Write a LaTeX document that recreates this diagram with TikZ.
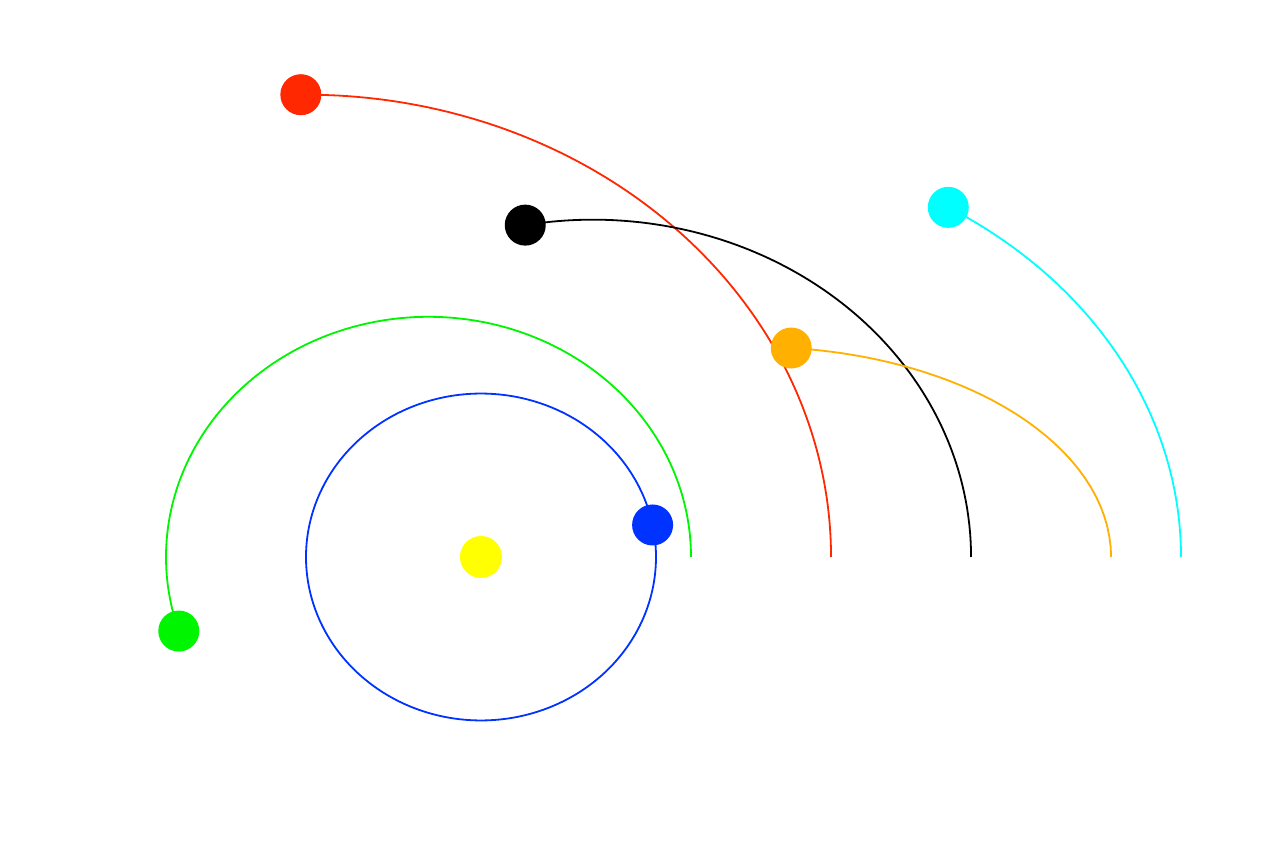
\documentclass[tikz,border=0pt]{standalone}
\usepackage{tikz}
\definecolor{cred}{RGB}{255,40,0}
\definecolor{corange}{RGB}{255,176,0}
\definecolor{cgreen}{RGB}{0,245,0}
\definecolor{cblue}{RGB}{0,51,255}
\definecolor{ccyan}{RGB}{0,255,255}
\definecolor{cyellow}{RGB}{255,255,0}
\newcommand\orbitplanet[5]{%
  \draw[orbitline,#1] plot[domain=0:#4,samples=360]
    ({(#2/(1+#3*cos(\x)))*cos(\x)},{(#2/(1+#3*cos(\x)))*sin(\x)});
}
\newcommand\planetat[5]{%
  \node[planet,fill=#1] (#5) at
    ({(#2/(1+#3*cos(#4)))*cos(#4)},{(#2/(1+#3*cos(#4)))*sin(#4)}) {};
}
\begin{document}
\begin{tikzpicture}[x=1pt,y=0.934pt,
  orbitline/.style={line width=1.8pt},
  planet/.style={circle,inner sep=0pt,minimum size=41pt,draw=none},
  sunstyle/.style={circle,inner sep=0pt,minimum size=42pt,fill=cyellow,draw=none}]
\useasboundingbox[fill=white] (-481pt,-307pt) rectangle (787pt,557pt);
% orbits
\orbitplanet{cblue}{175}{0}{371.3}{blue}
\orbitplanet{cgreen}{252}{0.2}{194.7}{green}
\orbitplanet{cred}{466.7}{0.3333}{110}{red}
\orbitplanet{black}{345}{(-0.296)}{82.9}{black}
\orbitplanet{corange}{142.4}{(-0.774)}{35.8}{orange}
\orbitplanet{ccyan}{395.5}{(-0.435)}{38.7}{cyan}
% sun and planets
\node[sunstyle] (sun) at (0,0) {};
\planetat{cblue}{175}{0}{371.3}{pblue}
\planetat{cgreen}{252}{0.2}{194.7}{pgreen}
\planetat{cred}{466.7}{0.3333}{110}{pred}
\planetat{black}{345}{(-0.296)}{82.9}{pblack}
\planetat{corange}{142.4}{(-0.774)}{35.8}{porange}
\planetat{ccyan}{395.5}{(-0.435)}{38.7}{pcyan}
\end{tikzpicture}
\end{document}
